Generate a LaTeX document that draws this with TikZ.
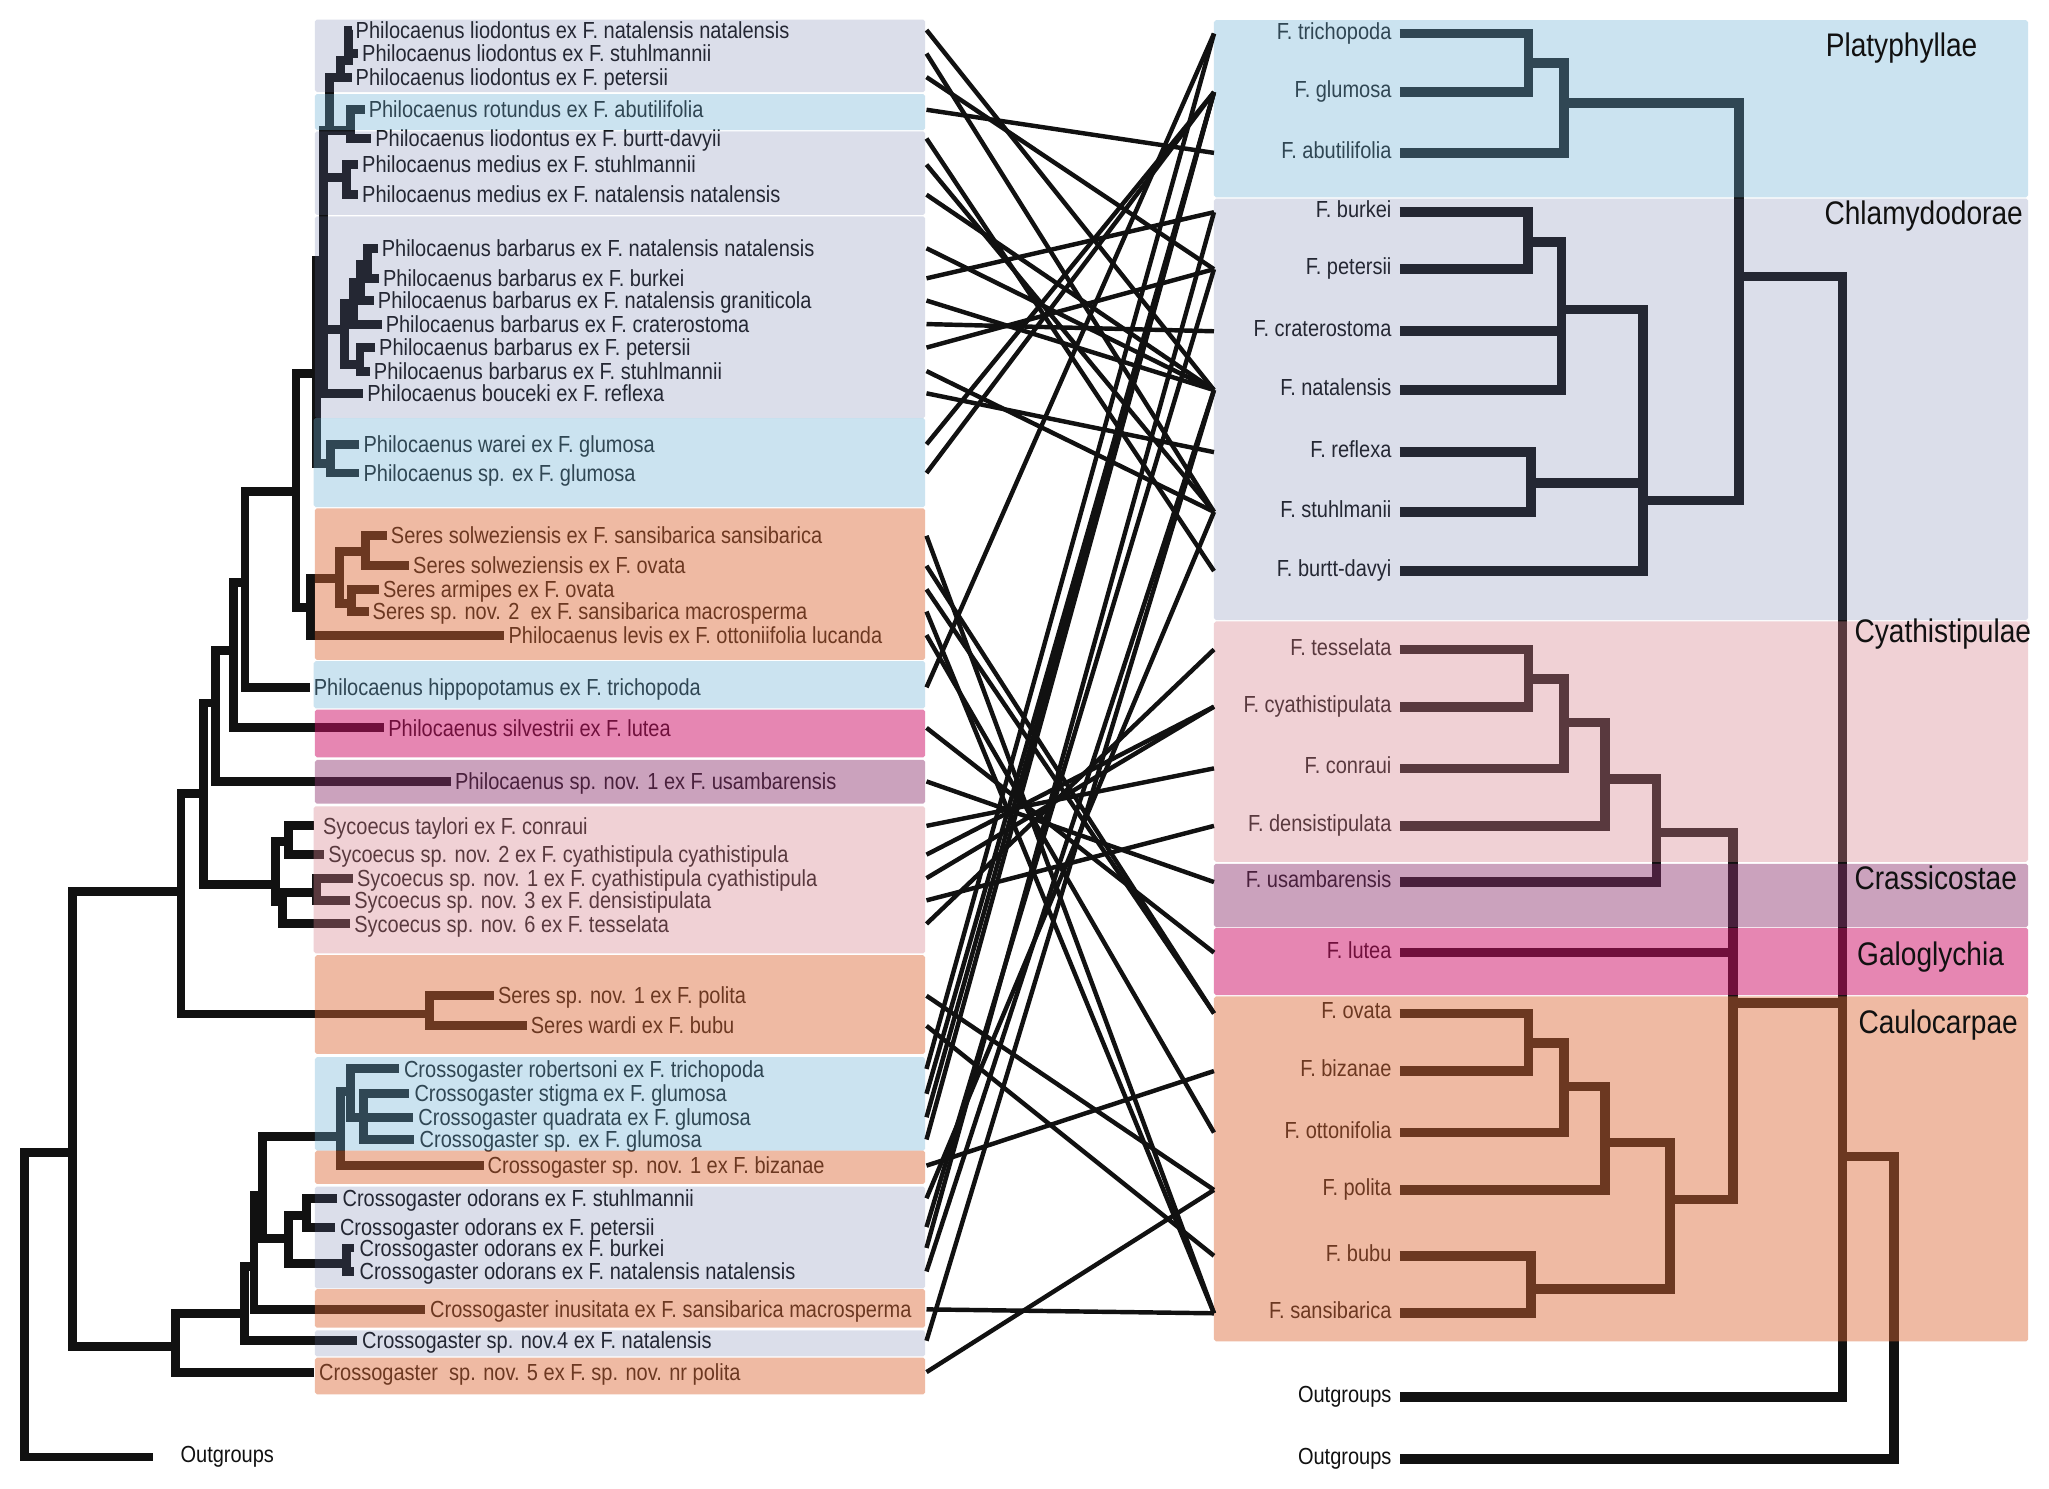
\documentclass[tikz,border=0pt]{standalone}
\usepackage{fontspec}
\setmainfont{Liberation Sans}[FakeStretch=0.86]
\definecolor{tb}{RGB}{17,17,17}
\definecolor{cblue}{RGB}{107,174,212}
\definecolor{clav}{RGB}{103,116,168}
\definecolor{corange}{RGB}{220,104,53}
\definecolor{clpink}{RGB}{216,129,142}
\definecolor{cmauve}{RGB}{141,51,112}
\definecolor{cpink}{RGB}{206,16,103}
\tikzset{
  lb/.style={line width=6.8pt, draw=tb, line join=miter, line cap=butt},
  rb/.style={line width=7.4pt, draw=tb, line join=miter, line cap=butt},
  tl/.style={line width=3.4pt, draw=tb, line cap=butt},
  lt/.style={anchor=west, inner sep=0pt, text=tb, text height=14pt, text depth=1.5pt, font=\fontsize{17.8}{17.8}\selectfont},
  rt/.style={anchor=east, inner sep=0pt, text=tb, text height=12pt, text depth=3.5pt, font=\fontsize{17.8}{17.8}\selectfont},
  ct/.style={anchor=west, inner sep=0pt, text=tb, text height=19pt, text depth=2pt, font=\fontsize{25}{25}\selectfont},
  ovblue/.style={fill=cblue, fill opacity=0.345, rounded corners=1.5pt},
  ovlav/.style={fill=clav, fill opacity=0.23, rounded corners=1.5pt},
  ovorange/.style={fill=corange, fill opacity=0.45, rounded corners=1.5pt},
  ovlpink/.style={fill=clpink, fill opacity=0.365, rounded corners=1.5pt},
  ovmauve/.style={fill=cmauve, fill opacity=0.455, rounded corners=1.5pt},
  ovpink/.style={fill=cpink, fill opacity=0.506, rounded corners=1.5pt},
}
\begin{document}
\begin{tikzpicture}[x=1pt,y=-1pt]
\useasboundingbox (0,0) rectangle (1568,1139);
\fill[white] (0,0) rectangle (1568,1139);

% ---------------- left labels ----------------
\node[lt] (l1) at (272,23) {Philocaenus liodontus ex F. natalensis natalensis};
\node[lt] (l2) at (277,41) {Philocaenus liodontus ex F. stuhlmannii};
\node[lt] (l3) at (272,59) {Philocaenus liodontus ex F. petersii};
\node[lt] (l4) at (282,84) {Philocaenus rotundus ex F. abutilifolia};
\node[lt] (l5) at (287,106) {Philocaenus liodontus ex F. burtt-davyii};
\node[lt] (l6) at (277,126) {Philocaenus medius ex F. stuhlmannii};
\node[lt] (l7) at (277,149) {Philocaenus medius ex F. natalensis natalensis};
\node[lt] (l8) at (292,190) {Philocaenus barbarus ex F. natalensis natalensis};
\node[lt] (l9) at (293,213) {Philocaenus barbarus ex F. burkei};
\node[lt] (l10) at (289,230) {Philocaenus barbarus ex F. natalensis graniticola};
\node[lt] (l11) at (295,248) {Philocaenus barbarus ex F. craterostoma};
\node[lt] (l12) at (290,266) {Philocaenus barbarus ex F. petersii};
\node[lt] (l13) at (286,284) {Philocaenus barbarus ex F. stuhlmannii};
\node[lt] (l14) at (281,301) {Philocaenus bouceki ex F. reflexa};
\node[lt] (l15) at (278,340) {Philocaenus warei ex F. glumosa};
\node[lt] (l16) at (278,362) {Philocaenus sp. ex F. glumosa};
\node[lt] (l17) at (299,410) {Seres solweziensis ex F. sansibarica sansibarica};
\node[lt] (l18) at (316,433) {Seres solweziensis ex F. ovata};
\node[lt] (l19) at (293,451) {Seres armipes ex F. ovata};
\node[lt] (l20) at (285,468) {Seres sp. nov. 2~ ex F. sansibarica macrosperma};
\node[lt] (l21) at (389,486) {Philocaenus levis ex F. ottoniifolia lucanda};
\node[lt] (l22) at (240,526) {Philocaenus hippopotamus ex F. trichopoda};
\node[lt] (l23) at (297,557) {Philocaenus silvestrii ex F. lutea};
\node[lt] (l24) at (348,598) {Philocaenus sp. nov. 1 ex F. usambarensis};
\node[lt] (l25) at (247,632) {Sycoecus taylori ex F. conraui};
\node[lt] (l26) at (251,654) {Sycoecus sp. nov. 2 ex F. cyathistipula cyathistipula};
\node[lt] (l27) at (273,672) {Sycoecus sp. nov. 1 ex F. cyathistipula cyathistipula};
\node[lt] (l28) at (271,689) {Sycoecus sp. nov. 3 ex F. densistipulata};
\node[lt] (l29) at (271,707) {Sycoecus sp. nov. 6 ex F. tesselata};
\node[lt] (l30) at (381,762) {Seres sp. nov. 1 ex F. polita};
\node[lt] (l31) at (406,785) {Seres wardi ex F. bubu};
\node[lt] (l32) at (309,818) {Crossogaster robertsoni ex F. trichopoda};
\node[lt] (l33) at (317,837) {Crossogaster stigma ex F. glumosa};
\node[lt] (l34) at (320,855) {Crossogaster quadrata ex F. glumosa};
\node[lt] (l35) at (321,872) {Crossogaster sp. ex F. glumosa};
\node[lt] (l36) at (373,892) {Crossogaster sp. nov. 1 ex F. bizanae};
\node[lt] (l37) at (262,917) {Crossogaster odorans ex F. stuhlmannii};
\node[lt] (l38) at (260,939) {Crossogaster odorans ex F. petersii};
\node[lt] (l39) at (275,955) {Crossogaster odorans ex F. burkei};
\node[lt] (l40) at (275,973) {Crossogaster odorans ex F. natalensis natalensis};
\node[lt] (l41) at (329,1002) {Crossogaster inusitata ex F. sansibarica macrosperma};
\node[lt] (l42) at (277,1026) {Crossogaster sp. nov.4 ex F. natalensis};
\node[lt] (l43) at (244,1050) {Crossogaster~ sp. nov. 5 ex F. sp. nov. nr polita};
\node[lt] (lout) at (138,1113) {Outgroups};

% ---------------- left tree ----------------
\draw[lb] (55.6,882) -- (19,882) -- (19,1115) -- (117,1115);
\draw[lb] (138.5,682) -- (55.6,682) -- (55.6,1030.5) -- (134,1030.5);
\draw[lb] (156,607) -- (138.5,607) -- (138.5,776) -- (329,776);
\draw[lb] (378,762) -- (329,762) -- (329,785) -- (403,785);
\draw[lb] (165,538) -- (156,538) -- (156,677) -- (211,677);
\draw[lb] (178.6,498) -- (165,498) -- (165,598) -- (345,598);
\draw[lb] (187.5,445.5) -- (178.6,445.5) -- (178.6,557) -- (294,557);
\draw[lb] (226.5,376) -- (187.5,376) -- (187.5,526) -- (237,526);
\draw[lb] (242,286) -- (226.5,286) -- (226.5,465) -- (237.5,465);
\draw[lb] (260,443) -- (237.5,443) -- (237.5,486) -- (386,486);
\draw[lb] (280,422) -- (260,422) -- (260,462) -- (269,462);
\draw[lb] (296,410) -- (280,410) -- (280,433) -- (313,433);
\draw[lb] (290,451) -- (269,451) -- (269,468) -- (282,468);
\draw[lb] (247.4,199) -- (242,199) -- (242,355) -- (253,355);
\draw[lb] (275,340) -- (253,340) -- (253,362) -- (275,362);
\draw[lb] (268,100) -- (247.4,100) -- (247.4,301) -- (278,301);
\draw[lb] (247.4,136) -- (265,136);
\draw[lb] (247.4,252) -- (263.8,252);
\draw[lb] (260.7,59) -- (252,59) -- (252,100);
\draw[lb] (269,23) -- (266.5,23) -- (266.5,46) -- (260.7,46) -- (260.7,59) -- (269,59);
\draw[lb] (266.5,41) -- (274,41);
\draw[lb] (279,84) -- (268,84) -- (268,106) -- (284,106);
\draw[lb] (274,126) -- (265,126) -- (265,149) -- (274,149);
\draw[lb] (270.6,232) -- (263.8,232) -- (263.8,279) -- (275.5,279);
\draw[lb] (276,216) -- (270.6,216) -- (270.6,248) -- (292,248);
\draw[lb] (281,202) -- (276,202) -- (276,230) -- (286,230);
\draw[lb] (289,190) -- (281,190) -- (281,213) -- (290,213);
\draw[lb] (287,266) -- (275.5,266) -- (275.5,284) -- (283,284);
\draw[lb] (220.6,644) -- (211,644) -- (211,690) -- (216.5,690);
\draw[lb] (240,632) -- (220.6,632) -- (220.6,654) -- (248,654);
\draw[lb] (242,683) -- (216.5,683) -- (216.5,707) -- (268,707);
\draw[lb] (270,672) -- (242,672) -- (242,689) -- (268,689);
\draw[lb] (187,1005) -- (134,1005) -- (134,1050) -- (240,1050);
\draw[lb] (194.4,969) -- (187,969) -- (187,1026) -- (273,1026);
\draw[lb] (201,915) -- (194.4,915) -- (194.4,1002) -- (325,1002);
\draw[lb] (260.5,870) -- (201,870) -- (201,948) -- (221,948);
\draw[lb] (268,835) -- (260.5,835) -- (260.5,892) -- (370,892);
\draw[lb] (305,818) -- (268,818) -- (268,855) -- (278,855);
\draw[lb] (313,837) -- (278,837) -- (278,872) -- (317,872);
\draw[lb] (278,855) -- (316,855);
\draw[lb] (234.7,930) -- (221,930) -- (221,966.7) -- (265,966.7);
\draw[lb] (258,917) -- (234.7,917) -- (234.7,939) -- (256,939);
\draw[lb] (271,955) -- (265,955) -- (265,973) -- (271,973);

% ---------------- right labels ----------------
\node[rt] (rtri) at (1065,25.7) {F. trichopoda};
\node[rt] (rglu) at (1065,70.5) {F. glumosa};
\node[rt] (rabu) at (1065,117) {F. abutilifolia};
\node[rt] (rbur) at (1065,162.4) {F. burkei};
\node[rt] (rpet) at (1065,206) {F. petersii};
\node[rt] (rcra) at (1065,253.5) {F. craterostoma};
\node[rt] (rnat) at (1065,298.5) {F. natalensis};
\node[rt] (rref) at (1065,346) {F. reflexa};
\node[rt] (rstu) at (1065,391.7) {F. stuhlmanii};
\node[rt] (rbtd) at (1065,437) {F. burtt-davyi};
\node[rt] (rtes) at (1065,497) {F. tesselata};
\node[rt] (rcya) at (1065,540.8) {F. cyathistipulata};
\node[rt] (rcon) at (1065,588) {F. conraui};
\node[rt] (rden) at (1065,632) {F. densistipulata};
\node[rt] (rusa) at (1065,675) {F. usambarensis};
\node[rt] (rlut) at (1065,729) {F. lutea};
\node[rt] (rova) at (1065,775.5) {F. ovata};
\node[rt] (rbiz) at (1065,819.6) {F. bizanae};
\node[rt] (rott) at (1065,866.7) {F. ottonifolia};
\node[rt] (rpol) at (1065,910.6) {F. polita};
\node[rt] (rbub) at (1065,961) {F. bubu};
\node[rt] (rsan) at (1065,1005) {F. sansibarica};
\node[rt] (rog1) at (1065,1068.8) {Outgroups};
\node[rt] (rog2) at (1065,1116.7) {Outgroups};

% ---------------- right tree ----------------
\draw[rb] (1071,25.7) -- (1169.7,25.7) -- (1169.7,70.5) -- (1071,70.5);
\draw[rb] (1169.7,48.4) -- (1196.7,48.4) -- (1196.7,117) -- (1071,117);
\draw[rb] (1196.7,79) -- (1330.5,79) -- (1330.5,383) -- (1257.2,383);
\draw[rb] (1071,162.4) -- (1169.5,162.4) -- (1169.5,206) -- (1071,206);
\draw[rb] (1169.5,185) -- (1195,185) -- (1195,298.5) -- (1071,298.5);
\draw[rb] (1195,253.5) -- (1071,253.5);
\draw[rb] (1195,236.8) -- (1257.2,236.8) -- (1257.2,437) -- (1071,437);
\draw[rb] (1257.2,369.6) -- (1171.6,369.6);
\draw[rb] (1071,346) -- (1171.6,346) -- (1171.6,391.7) -- (1071,391.7);
\draw[rb] (1330.5,211.7) -- (1410,211.7) -- (1410,1068.8) -- (1071,1068.8);
\draw[rb] (1410,767.3) -- (1326,767.3);
\draw[rb] (1410,885) -- (1449.5,885) -- (1449.5,1116.7) -- (1071,1116.7);
\draw[rb] (1071,497) -- (1169.7,497) -- (1169.7,540.8) -- (1071,540.8);
\draw[rb] (1169.7,519.6) -- (1196.7,519.6) -- (1196.7,588) -- (1071,588);
\draw[rb] (1196.7,552.8) -- (1228.3,552.8) -- (1228.3,632) -- (1071,632);
\draw[rb] (1228.3,596) -- (1267.5,596) -- (1267.5,675) -- (1071,675);
\draw[rb] (1267.5,637) -- (1326,637) -- (1326,917.8) -- (1277.9,917.8);
\draw[rb] (1326,729) -- (1071,729);
\draw[rb] (1071,775.5) -- (1169.7,775.5) -- (1169.7,819.6) -- (1071,819.6);
\draw[rb] (1169.7,798.4) -- (1196.7,798.4) -- (1196.7,866.7) -- (1071,866.7);
\draw[rb] (1196.7,831.5) -- (1228.3,831.5) -- (1228.3,910.6) -- (1071,910.6);
\draw[rb] (1228.3,874.2) -- (1277.9,874.2) -- (1277.9,986.6) -- (1171.8,986.6);
\draw[rb] (1071,961) -- (1171.8,961) -- (1171.8,1005) -- (1071,1005);

% ---------------- overlays (left) ----------------
\fill[ovlav] (241,15) rectangle (708,70.5);
\fill[ovblue] (241,72) rectangle (708,99.5);
\fill[ovlav] (241,100.5) rectangle (708,164.5);
\fill[ovlav] (241,165.5) rectangle (708,320);
\fill[ovblue] (240,320) rectangle (708,388);
\fill[ovorange] (241,389) rectangle (708,505);
\fill[ovblue] (240,506) rectangle (708,542);
\fill[ovpink] (241,543) rectangle (708,579.5);
\fill[ovmauve] (241,581.5) rectangle (708,615);
\fill[ovlpink] (240,617) rectangle (708,729.5);
\fill[ovorange] (241,731) rectangle (708,806.5);
\fill[ovblue] (241,809) rectangle (708,880.5);
\fill[ovorange] (241,880.5) rectangle (708,906);
\fill[ovlav] (241,908) rectangle (708,986);
\fill[ovorange] (241,986.5) rectangle (708,1016);
\fill[ovlav] (241,1018) rectangle (708,1038);
\fill[ovorange] (241,1039) rectangle (708,1067);

% ---------------- overlays (right) ----------------
\fill[ovblue] (929,15.5) rectangle (1552,151);
\fill[ovlav] (929,152) rectangle (1552,474.5);
\fill[ovlpink] (929,475.5) rectangle (1552,659.5);
\fill[ovmauve] (929,661) rectangle (1552,709.5);
\fill[ovpink] (929,710) rectangle (1552,761.5);
\fill[ovorange] (929,762.5) rectangle (1552,1026.5);

% ---------------- clade labels ----------------
\node[ct] (cPla) at (1397,35) {Platyphyllae};
\node[ct] (cChl) at (1396,163) {Chlamydodorae};
\node[ct] (cCya) at (1419,483) {Cyathistipulae};
\node[ct] (cCra) at (1419,672) {Crassicostae};
\node[ct] (cGal) at (1421,730) {Galoglychia};
\node[ct] (cCau) at (1422,782) {Caulocarpae};

% ---------------- tanglegram ----------------
\foreach \i/\y in {1/23,2/41,3/59,4/84,5/106,6/126,7/149,8/190,9/213,10/230,11/248,12/266,13/284,14/301,15/340,16/362,17/410,18/433,19/451,20/468,21/486,22/526,23/557,24/598,25/632,26/654,27/672,28/689,29/707,30/762,31/785,32/818,33/837,34/855,35/872,36/892,37/917,38/939,39/955,40/973,41/1002,42/1026,43/1050}
  \coordinate (p\i) at (709,\y);
\foreach \n/\y in {tri/25.7,glu/70.5,abu/117,bur/162.4,pet/206,cra/253.5,nat/298.5,ref/346,stu/391.7,btd/437,tes/497,cya/540.8,con/588,den/632,usa/675,lut/729,ova/775.5,biz/819.6,ott/866.7,pol/910.6,bub/961,san/1005}
  \coordinate (h\n) at (929,\y);
\foreach \a/\b in {1/nat,2/stu,3/pet,4/abu,5/btd,6/stu,7/nat,8/nat,9/bur,10/nat,11/cra,12/pet,13/stu,14/ref,15/glu,16/glu,17/san,18/ova,19/ova,20/san,21/ott,22/tri,23/lut,24/usa,25/con,26/cya,27/cya,28/den,29/tes,30/pol,31/bub,32/tri,33/glu,34/glu,35/glu,36/biz,37/stu,38/pet,39/bur,40/nat,41/san,42/nat,43/pol}
  \draw[tl] (p\a) -- (h\b);
\end{tikzpicture}
\end{document}
